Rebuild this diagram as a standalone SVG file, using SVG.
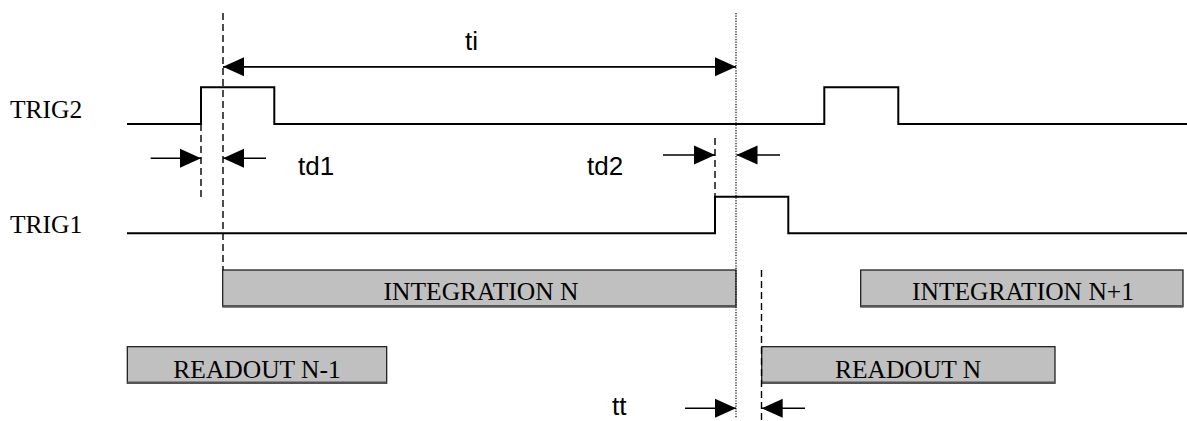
<svg xmlns="http://www.w3.org/2000/svg" width="1187" height="421" viewBox="0 0 1187 421">
<style>
.sig{fill:none;stroke:#000;stroke-width:2}
.arr{fill:none;stroke:#000;stroke-width:1.4}
.dash{fill:none;stroke:#000;stroke-width:1.4;stroke-dasharray:7,4}
.dot{fill:none;stroke:#000;stroke-width:1.2;stroke-dasharray:1.2,1.4}
.box{fill:#c0c0c0;stroke:#111;stroke-width:1.2}
.shadow{fill:none;stroke:#555;stroke-width:2.5}
.lbl{font-family:"Liberation Serif","Times New Roman",serif;font-size:25.5px;fill:#000}
.dim{font-family:"Liberation Sans",Arial,sans-serif;font-size:26px;fill:#000}
</style>
<defs>
<marker id="ah" markerUnits="userSpaceOnUse" markerWidth="21" markerHeight="21" viewBox="0 0 21 21" refX="21" refY="10.5" orient="auto">
<path d="M0,1 L21,10.5 L0,20 Z" fill="#000"/>
</marker>
</defs>
<rect width="1187" height="421" fill="#fff"/>

<g id="trig2">
<text class="lbl" x="10" y="118">TRIG2</text>
<path class="sig" d="M127,124 H201 V87.3 H274.3 V124 H824.3 V87.3 H898.3 V124 H1187"/>
</g>
<g id="trig1">
<text class="lbl" x="10" y="233.3">TRIG1</text>
<path class="sig" d="M127,233.3 H715 V196.7 H788.3 V233.3 H1187"/>
</g>

<g id="integration-n">
<rect class="box" x="222.7" y="270" width="513.3" height="36.7"/>
<line class="shadow" x1="222.7" y1="306.2" x2="736" y2="306.2"/>
<text class="lbl" x="481" y="300" text-anchor="middle">INTEGRATION N</text>
</g>
<g id="integration-n1">
<rect class="box" x="860.7" y="270" width="322.3" height="36.7"/>
<line class="shadow" x1="860.7" y1="306.2" x2="1183" y2="306.2"/>
<text class="lbl" x="1023" y="300" text-anchor="middle">INTEGRATION N+1</text>
</g>
<g id="readout-n-1">
<rect class="box" x="127.3" y="346.7" width="259.4" height="36.6"/>
<line class="shadow" x1="127.3" y1="382.8" x2="386.7" y2="382.8"/>
<text class="lbl" x="257" y="378.3" text-anchor="middle">READOUT N-1</text>
</g>
<g id="readout-n">
<rect class="box" x="761.7" y="346.7" width="293.3" height="36.6"/>
<line class="shadow" x1="761.7" y1="382.8" x2="1055" y2="382.8"/>
<text class="lbl" x="908" y="378.3" text-anchor="middle">READOUT N</text>
</g>

<g id="connectors">
<line class="dash" x1="223" y1="13" x2="223" y2="270"/>
<line class="dash" x1="201" y1="124" x2="201" y2="197"/>
<line class="dash" x1="715" y1="138" x2="715" y2="197"/>
<line class="dash" x1="761.5" y1="270" x2="761.5" y2="421"/>
<line class="dot" x1="736" y1="13" x2="736" y2="418"/>

<line class="arr" x1="736" y1="66.7" x2="223" y2="66.7" marker-end="url(#ah)"/>
<line class="arr" x1="223" y1="66.7" x2="736" y2="66.7" marker-end="url(#ah)"/>

<line class="arr" x1="150.7" y1="158.3" x2="201" y2="158.3" marker-end="url(#ah)"/>
<line class="arr" x1="266" y1="158.3" x2="223" y2="158.3" marker-end="url(#ah)"/>

<line class="arr" x1="663" y1="155" x2="715" y2="155" marker-end="url(#ah)"/>
<line class="arr" x1="780" y1="155" x2="736.5" y2="155" marker-end="url(#ah)"/>

<line class="arr" x1="685" y1="408.3" x2="736" y2="408.3" marker-end="url(#ah)"/>
<line class="arr" x1="805" y1="408.3" x2="761.7" y2="408.3" marker-end="url(#ah)"/>
</g>

<text class="dim" x="465" y="50">ti</text>
<text class="dim" x="298" y="175">td1</text>
<text class="dim" x="587" y="175">td2</text>
<text class="dim" x="612" y="415">tt</text>
</svg>
